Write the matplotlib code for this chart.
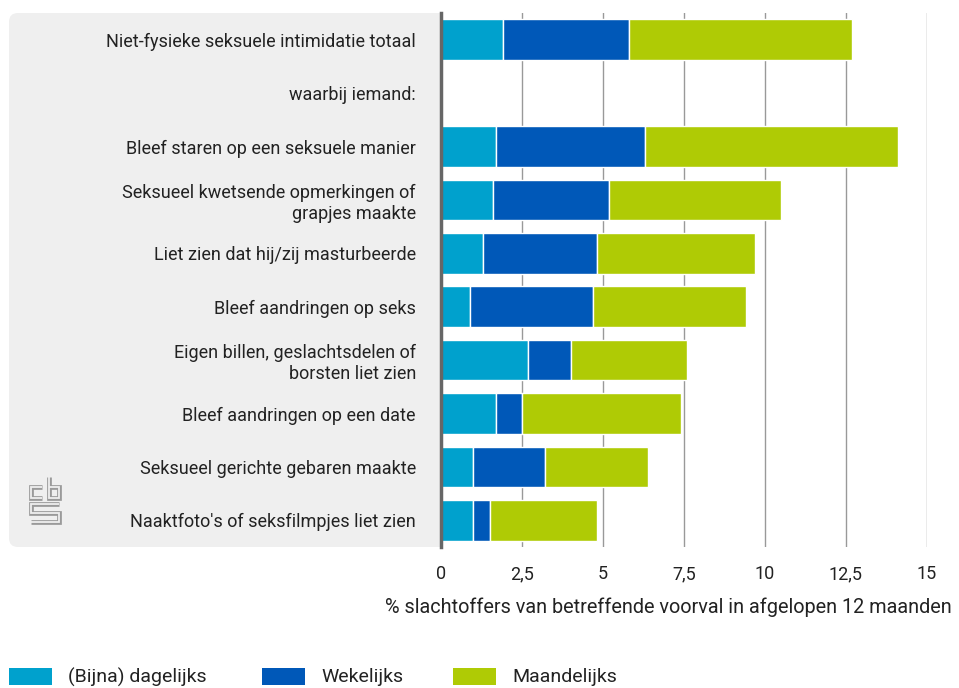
import matplotlib.pyplot as plt
import numpy as np
from matplotlib.patches import FancyBboxPatch, Rectangle
from matplotlib.transforms import IdentityTransform

plt.rcParams['font.family'] = ['Roboto', 'DejaVu Sans']

# Data
categories = ['Niet-fysieke seksuele intimidatie totaal',
              'waarbij iemand:',
              'Bleef staren op een seksuele manier',
              'Seksueel kwetsende opmerkingen of\ngrapjes maakte',
              'Liet zien dat hij/zij masturbeerde',
              'Bleef aandringen op seks',
              'Eigen billen, geslachtsdelen of\nborsten liet zien',
              'Bleef aandringen op een date',
              'Seksueel gerichte gebaren maakte',
              "Naaktfoto's of seksfilmpjes liet zien"]
daily = [1.9, np.nan, 1.7, 1.6, 1.3, 0.9, 2.7, 1.7, 1.0, 1.0]
weekly = [3.9, np.nan, 4.6, 3.6, 3.5, 3.8, 1.3, 0.8, 2.2, 0.5]
monthly = [6.9, np.nan, 7.8, 5.3, 4.9, 4.7, 3.6, 4.9, 3.2, 3.3]
series_labels = ['(Bijna) dagelijks', 'Wekelijks', 'Maandelijks']
colors = ['#00a1cd', '#0058b8', '#afcb05']
xticks = [0, 2.5, 5, 7.5, 10, 12.5, 15]
xticklabels = ['0', '2,5', '5', '7,5', '10', '12,5', '15']

W, H = 959, 688
fig = plt.figure(figsize=(W / 100, H / 100), dpi=100)

# grey panel behind the labels
panel = FancyBboxPatch((9, H - 547), 460, 534,
                       boxstyle='round,pad=0,rounding_size=9',
                       fc='#efefef', ec='none', transform=IdentityTransform(),
                       zorder=-5)
fig.patches.append(panel)

ax = fig.add_axes([441 / W, 1 - 547 / H, (927 - 441) / W, (547 - 13) / H])
ax.set_facecolor('white')

y = np.arange(len(categories))
left = np.zeros(len(categories))
for vals, lab, col in zip([daily, weekly, monthly], series_labels, colors):
    vals = np.array(vals)
    ax.barh(y, vals, left=left, height=0.76, color=col, edgecolor='white',
            linewidth=1, label=lab, zorder=3)
    left = left + np.nan_to_num(vals)

ax.set_xlim(0, 15)
ax.set_ylim(len(categories) - 0.5, -0.5)
ax.set_xticks(xticks)
ax.set_xticklabels(xticklabels)
ax.set_yticks(y)
ax.set_yticklabels(categories, multialignment='right', linespacing=1.2)
ax.tick_params(axis='both', length=0, labelsize=13, colors='#222222')
ax.tick_params(axis='y', pad=18)
ax.tick_params(axis='x', pad=13)
ax.grid(axis='x', color='#999999', lw=1, zorder=0)
for s in ['top', 'right', 'bottom']:
    ax.spines[s].set_visible(False)
ax.spines['left'].set_color('#666666')
ax.spines['left'].set_linewidth(2.5)
ax.spines['left'].set_zorder(5)

fig.text(952 / W, 1 - 607 / H,
         '% slachtoffers van betreffende voorval in afgelopen 12 maanden',
         ha='right', va='center', fontsize=14.3, color='#222222')

# legend
leg_x = [9, 262, 453]
for lx, lab, col in zip(leg_x, series_labels, colors):
    fig.patches.append(Rectangle((lx, H - 685), 43, 17, fc=col, ec='none',
                                 transform=IdentityTransform()))
    fig.text((lx + 59) / W, 1 - 677 / H, lab, ha='left', va='center',
             fontsize=14, color='#222222')

# cbs logo (simplified)
def px(pts):
    return [p[0] / W for p in pts], [1 - p[1] / H for p in pts]

logo_paths = [
    [(42, 487), (31, 487), (31, 498), (42, 498)],
    [(49, 477), (49, 498), (59, 498), (59, 487), (49, 487)],
    [(59, 504), (31, 504), (31, 513), (59, 513), (59, 522), (31, 522)],
]
for pth in logo_paths:
    xs, ys = px(pth)
    fig.add_artist(plt.Line2D(xs, ys, color='#9a9a9a', lw=3.4,
                              solid_joinstyle='miter', solid_capstyle='butt'))
    fig.add_artist(plt.Line2D(xs, ys, color='#efefef', lw=1.3,
                              solid_joinstyle='miter', solid_capstyle='butt'))

plt.savefig('out.png', dpi=100)
